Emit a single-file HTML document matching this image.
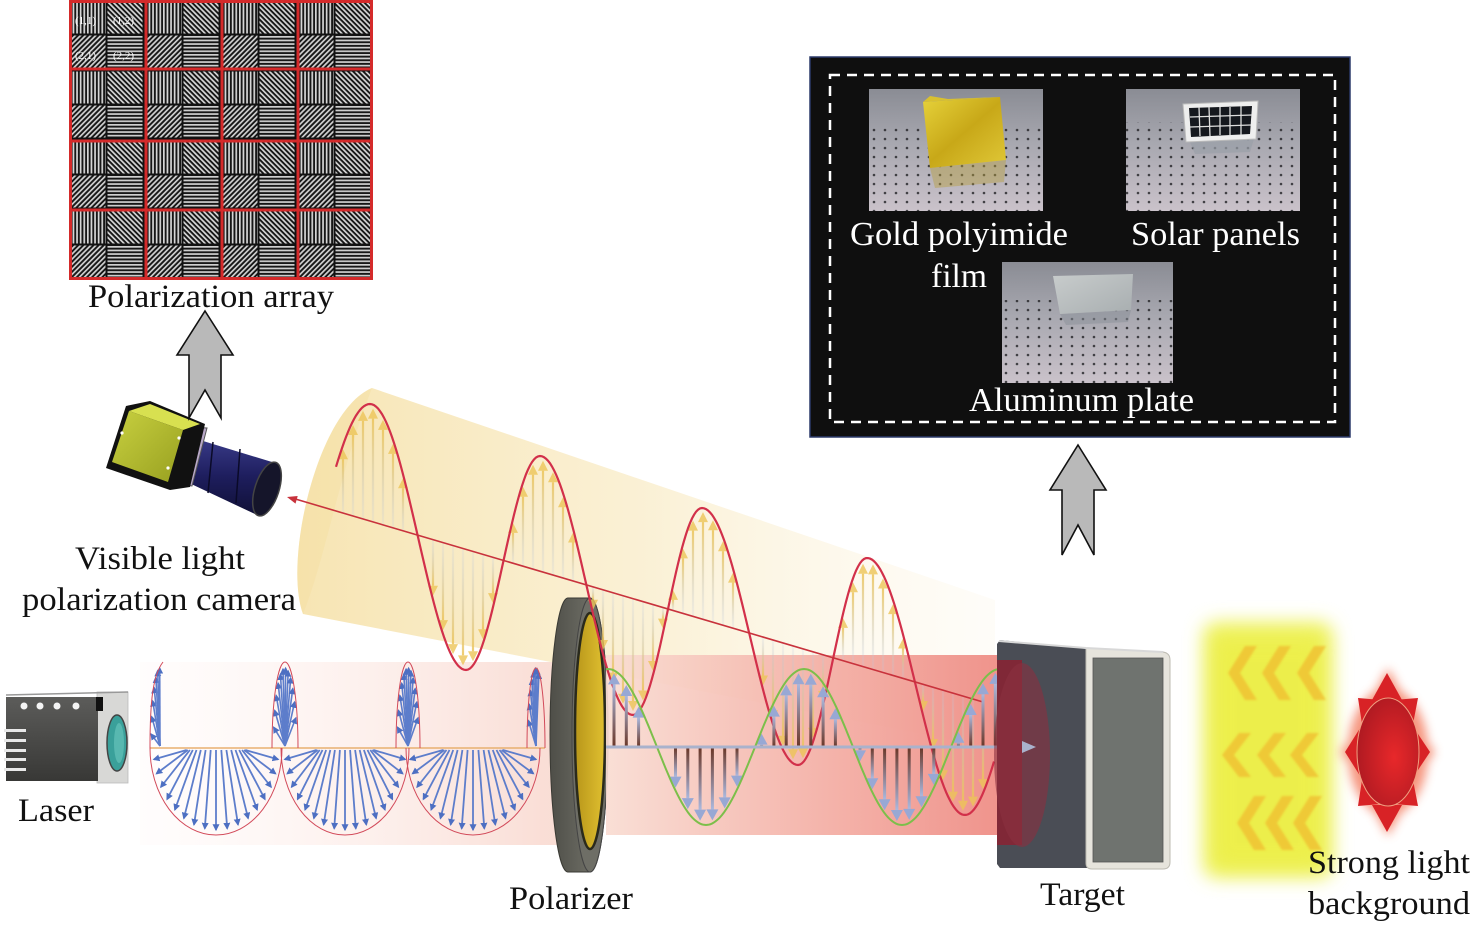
<!DOCTYPE html>
<html><head><meta charset="utf-8">
<style>
html,body{margin:0;padding:0;background:#fff;}
svg{display:block;}
text{font-family:"Liberation Serif","Times New Roman",serif;}
</style></head><body>
<svg id="s" width="1476" height="925" viewBox="0 0 1476 925" xmlns="http://www.w3.org/2000/svg">
<defs>
  <pattern id="pv" width="3.6" height="10" patternUnits="userSpaceOnUse"><rect width="3.6" height="10" fill="#161616"/><rect width="1.7" height="10" fill="#d6d6d6"/></pattern>
  <pattern id="ph" width="10" height="3.6" patternUnits="userSpaceOnUse"><rect width="10" height="3.6" fill="#161616"/><rect width="10" height="1.7" fill="#cfcfcf"/></pattern>
  <pattern id="pd1" width="3.6" height="10" patternUnits="userSpaceOnUse" patternTransform="rotate(-45)"><rect width="3.6" height="10" fill="#161616"/><rect width="1.7" height="10" fill="#d6d6d6"/></pattern>
  <pattern id="pd2" width="3.6" height="10" patternUnits="userSpaceOnUse" patternTransform="rotate(45)"><rect width="3.6" height="10" fill="#161616"/><rect width="1.7" height="10" fill="#d0d0d0"/></pattern>
  <g id="cell">
    <rect x="1.5" y="1.5" width="35" height="32" fill="url(#pv)"/>
    <rect x="38.5" y="1.5" width="35" height="32" fill="url(#pd1)"/>
    <rect x="1.5" y="35.5" width="35" height="32" fill="url(#pd2)"/>
    <rect x="38.5" y="35.5" width="35" height="32" fill="url(#ph)"/>
  </g>
  <pattern id="dots" width="11" height="9" patternUnits="userSpaceOnUse"><circle cx="5" cy="4" r="1.3" fill="#2a2a2e"/></pattern>
  <linearGradient id="tbl" x1="0" y1="0" x2="0" y2="1"><stop offset="0" stop-color="#8a8c94"/><stop offset="0.45" stop-color="#a8a8b0"/><stop offset="1" stop-color="#cac2ca"/></linearGradient>
  <linearGradient id="gold" x1="0" y1="0" x2="1" y2="1"><stop offset="0" stop-color="#e6d23a"/><stop offset="0.5" stop-color="#c8a818"/><stop offset="1" stop-color="#e0c838"/></linearGradient>
  <linearGradient id="alu" x1="0" y1="0" x2="1" y2="1"><stop offset="0" stop-color="#c8cccc"/><stop offset="1" stop-color="#a8aeb0"/></linearGradient>
  <linearGradient id="cyl" x1="300" y1="0" x2="1000" y2="0" gradientUnits="userSpaceOnUse"><stop offset="0" stop-color="#f6e2ab" stop-opacity="0.9"/><stop offset="0.5" stop-color="#f9ecc8" stop-opacity="0.75"/><stop offset="1" stop-color="#fdf6e6" stop-opacity="0.25"/></linearGradient>
  <linearGradient id="pinkL" x1="140" y1="0" x2="560" y2="0" gradientUnits="userSpaceOnUse"><stop offset="0" stop-color="#fff4f2" stop-opacity="0.2"/><stop offset="1" stop-color="#f8d6cc" stop-opacity="0.85"/></linearGradient>
  <linearGradient id="redR" x1="606" y1="0" x2="1000" y2="0" gradientUnits="userSpaceOnUse"><stop offset="0" stop-color="#f9dcd2"/><stop offset="0.5" stop-color="#f4b2a8"/><stop offset="1" stop-color="#ee8a82"/></linearGradient>
  <linearGradient id="gyu" x1="0" y1="1" x2="0" y2="0"><stop offset="0" stop-color="#b8c8e8" stop-opacity="0.15"/><stop offset="1" stop-color="#ecc458" stop-opacity="0.85"/></linearGradient>
  <linearGradient id="gyd" x1="0" y1="0" x2="0" y2="1"><stop offset="0" stop-color="#b8c8e8" stop-opacity="0.15"/><stop offset="1" stop-color="#ecc458" stop-opacity="0.85"/></linearGradient>
  <linearGradient id="ggu" x1="0" y1="1" x2="0" y2="0"><stop offset="0" stop-color="#6a3626"/><stop offset="1" stop-color="#aab8de"/></linearGradient>
  <linearGradient id="ggd" x1="0" y1="0" x2="0" y2="1"><stop offset="0" stop-color="#6a3626"/><stop offset="1" stop-color="#aab8de"/></linearGradient>
  <linearGradient id="laserG" x1="0" y1="0" x2="0" y2="1"><stop offset="0" stop-color="#5c5c5a"/><stop offset="1" stop-color="#383836"/></linearGradient>
  <linearGradient id="lensG" x1="0" y1="0" x2="0" y2="1"><stop offset="0" stop-color="#3a3c8a"/><stop offset="0.5" stop-color="#1e1e5e"/><stop offset="1" stop-color="#101036"/></linearGradient>
  <linearGradient id="camY" x1="0" y1="0" x2="1" y2="1"><stop offset="0" stop-color="#c8d040"/><stop offset="1" stop-color="#98a020"/></linearGradient>
  <radialGradient id="sunG" cx="0.6" cy="0.55" r="0.6"><stop offset="0" stop-color="#e8282a"/><stop offset="1" stop-color="#b01a22"/></radialGradient>
  <linearGradient id="polG" x1="0" y1="0" x2="1" y2="0"><stop offset="0" stop-color="#4e4e48"/><stop offset="1" stop-color="#7a7a70"/></linearGradient>
  <linearGradient id="polY" x1="0" y1="0" x2="1" y2="0"><stop offset="0" stop-color="#b8961a"/><stop offset="1" stop-color="#e0c030"/></linearGradient>
  <marker id="mb" viewBox="0 0 10 10" refX="8" refY="5" markerWidth="7" markerHeight="7" markerUnits="userSpaceOnUse" orient="auto"><path d="M0,0 L10,5 L0,10 z" fill="#4d6fc2"/></marker>
  <filter id="blur9" x="-30%" y="-30%" width="160%" height="160%"><feGaussianBlur stdDeviation="9"/></filter>
  <filter id="blur5" x="-30%" y="-30%" width="160%" height="160%"><feGaussianBlur stdDeviation="5"/></filter>
  <filter id="blur1" x="-20%" y="-20%" width="140%" height="140%"><feGaussianBlur stdDeviation="1"/></filter>
</defs>

<rect width="1476" height="925" fill="#fff"/>

<!-- Polarization array -->
<rect x="69" y="0" width="304" height="280" fill="#111"/>
<use href="#cell" x="69" y="0"/><use href="#cell" x="145" y="0"/><use href="#cell" x="221" y="0"/><use href="#cell" x="297" y="0"/>
<use href="#cell" x="69" y="70"/><use href="#cell" x="145" y="70"/><use href="#cell" x="221" y="70"/><use href="#cell" x="297" y="70"/>
<use href="#cell" x="69" y="140"/><use href="#cell" x="145" y="140"/><use href="#cell" x="221" y="140"/><use href="#cell" x="297" y="140"/>
<use href="#cell" x="69" y="210"/><use href="#cell" x="145" y="210"/><use href="#cell" x="221" y="210"/><use href="#cell" x="297" y="210"/>
<g stroke="#d42a2a" stroke-width="3" fill="none">
  <rect x="70.5" y="1.5" width="301" height="277"/>
  <line x1="146" y1="0" x2="146" y2="280"/><line x1="222" y1="0" x2="222" y2="280"/><line x1="298" y1="0" x2="298" y2="280"/>
  <line x1="69" y1="69" x2="373" y2="69"/><line x1="69" y1="141" x2="373" y2="141"/><line x1="69" y1="210" x2="373" y2="210"/>
</g>
<g fill="#fff" font-size="11">
  <text x="75" y="24" font-family="Liberation Sans, sans-serif">(1,1)</text>
  <text x="113" y="24" font-family="Liberation Sans, sans-serif">(1,2)</text>
  <text x="75" y="59" font-family="Liberation Sans, sans-serif">(2,1)</text>
  <text x="113" y="59" font-family="Liberation Sans, sans-serif">(2,2)</text>
</g>

<!-- Black box with photos -->
<rect x="810" y="57" width="540" height="380" fill="#0f0f0f" stroke="#2c3a6a" stroke-width="1.5"/>
<rect x="830" y="75" width="505" height="347" fill="none" stroke="#fff" stroke-width="2.5" stroke-dasharray="10,7"/>
<rect x="869" y="89" width="174" height="122" fill="url(#tbl)"/>
<rect x="869" y="128" width="174" height="83" fill="url(#dots)" opacity="0.85"/>
<polygon points="930,168 1006,160 1004,182 935,188" fill="#b8a040" opacity="0.45"/>
<polygon points="923,102 1000,97 1006,160 930,168" fill="url(#gold)"/>
<polygon points="923,102 930,96 948,99 1000,97" fill="#d8c030"/>
<rect x="1126" y="89" width="174" height="122" fill="url(#tbl)"/>
<rect x="1126" y="122" width="174" height="89" fill="url(#dots)" opacity="0.85"/>
<polygon points="1190,142 1254,139 1250,152 1195,154" fill="#9aa0a8" opacity="0.7"/>
<polygon points="1183,104 1258,101 1256,139 1186,142" fill="#eeeeee" stroke="#bbb" stroke-width="1"/>
<polygon points="1189,108 1252,106 1250,134 1191,137" fill="#15181e"/>
<g stroke="#ddd" stroke-width="1.3">
  <line x1="1199" y1="107" x2="1200" y2="136"/><line x1="1209" y1="107" x2="1210" y2="136"/><line x1="1220" y1="107" x2="1220" y2="135"/><line x1="1230" y1="107" x2="1230" y2="135"/><line x1="1241" y1="106" x2="1241" y2="135"/>
  <line x1="1190" y1="117" x2="1252" y2="115"/><line x1="1190" y1="127" x2="1251" y2="125"/>
</g>
<rect x="1002" y="262" width="171" height="121" fill="url(#tbl)"/>
<rect x="1002" y="300" width="171" height="83" fill="url(#dots)" opacity="0.85"/>
<polygon points="1060,314 1131,310 1128,322 1066,325" fill="#8a9098" opacity="0.5"/>
<polygon points="1053,276 1133,274 1131,310 1060,314" fill="url(#alu)"/>
<g fill="#fff" font-size="34">
  <text x="850" y="245" textLength="218" lengthAdjust="spacingAndGlyphs">Gold polyimide</text>
  <text x="931" y="287" textLength="56" lengthAdjust="spacingAndGlyphs">film</text>
  <text x="1131" y="245" textLength="169" lengthAdjust="spacingAndGlyphs">Solar panels</text>
  <text x="969" y="411" textLength="225" lengthAdjust="spacingAndGlyphs">Aluminum plate</text>
</g>

<!-- left pink beam -->
<rect x="140" y="662" width="420" height="183" fill="url(#pinkL)"/>
<!-- yellow cylinder -->
<path d="M372,388 L995,600 L995,748 L303,614 C283,560 318,410 372,388 Z" fill="url(#cyl)"/>
<path d="M372,388 C318,410 283,560 303,614 C325,560 340,470 372,388 Z" fill="#f3dc9c" opacity="0.35"/>

<!-- polarizer -->
<path d="M568,598 L590,598 A18 137 0 0 1 590,872 L568,872 A18 137 0 0 1 568,598 Z" fill="url(#polG)" stroke="#3a3a34" stroke-width="1"/>
<ellipse cx="590" cy="735" rx="18" ry="137" fill="#6e6e66" stroke="#444" stroke-width="1"/>
<ellipse cx="590" cy="731" rx="15" ry="118" fill="url(#polY)" stroke="#2a2a1c" stroke-width="2.5"/>

<!-- red beam right -->
<rect x="606" y="655" width="391" height="180" fill="url(#redR)" opacity="0.92"/>

<!-- blue spiral -->
<line x1="150" y1="748" x2="545" y2="748" stroke="#e8b070" stroke-width="1.5"/>
<g id="barr"></g>
<g fill="none" stroke="#d24a5a" stroke-width="1">
  <path d="M150,748 A66 87 0 0 0 282,748"/>
  <path d="M281,748 A64 87 0 0 0 409,748"/>
  <path d="M406,748 A67 87 0 0 0 540,748"/>
  <path d="M150,748 C150,700 153,675 163,662"/>
  <path d="M272,748 A13 86 0 0 1 298,748"/>
  <path d="M396,748 A12 86 0 0 1 420,748"/>
  <path d="M527,748 A9 80 0 0 1 545,748"/>
</g>

<!-- yellow arrows + red wave -->
<g id="yarr"></g>
<path id="rwave" d="" fill="none" stroke="#d2304a" stroke-width="2.2"/>
<line x1="292" y1="498" x2="983" y2="702" stroke="#c8323c" stroke-width="1.6"/>
<polygon points="287,497 295.5,503.6 297.7,496" fill="#c8323c"/>

<!-- green wave -->
<g id="garr"></g>
<path id="gwave" d="" fill="none" stroke="#7cbf4a" stroke-width="2"/>
<line x1="606" y1="747" x2="1026" y2="747" stroke="#a9b2cc" stroke-width="3"/>

<!-- target -->
<polygon points="997,644 1000,640 1088,649 1088,868 1000,868 997,864" fill="#4a4d55"/>
<path d="M1086,648 L1163,652 Q1170,653 1170,660 L1170,862 Q1170,869 1163,869 L1092,869 Q1086,869 1086,863 Z" fill="#e6e4dc" stroke="#bdbbb2" stroke-width="1"/>
<rect x="1093" y="658" width="70" height="204" fill="#6f736f" stroke="#555" stroke-width="0.8"/>
<polyline points="999,641 1086,648 1163,652" fill="none" stroke="#d8d8d8" stroke-width="2"/>
<rect x="997" y="660" width="25" height="185" fill="#8a2233" opacity="0.85"/>
<ellipse cx="1022" cy="755" rx="28" ry="92" fill="#8a3040" opacity="0.6"/>
<polygon points="1036,747 1022,741 1022,753" fill="#a9b2cc"/>

<!-- laser -->
<rect x="97" y="692" width="31" height="91" fill="#d8d8d6" stroke="#bbb" stroke-width="0.8"/>
<ellipse cx="117" cy="743" rx="10" ry="28" fill="#3aa09a" stroke="#444" stroke-width="1.5"/>
<ellipse cx="119" cy="743" rx="5" ry="20" fill="#6cc8c0" opacity="0.6"/>
<rect x="6" y="697" width="92" height="84" fill="url(#laserG)"/>
<line x1="6" y1="695" x2="128" y2="692" stroke="#999" stroke-width="1.5"/>
<rect x="96" y="697" width="7" height="14" fill="#111"/>
<g fill="#f4f4f4"><circle cx="24" cy="706" r="3.5"/><circle cx="40" cy="706" r="3.5"/><circle cx="57" cy="706" r="3.5"/><circle cx="76" cy="706" r="3.5"/></g>
<g fill="#e8e8e8"><rect x="4" y="729" width="22" height="3"/><rect x="4" y="739" width="22" height="3"/><rect x="4" y="749" width="22" height="3"/><rect x="4" y="758" width="22" height="3"/><rect x="4" y="768" width="22" height="3"/></g>

<!-- camera -->
<polygon points="190,437 272,462 257,515 187,482" fill="url(#lensG)"/>
<line x1="213" y1="442" x2="208" y2="493" stroke="#0a0a28" stroke-width="1.5"/>
<line x1="240" y1="449" x2="236" y2="503" stroke="#0a0a28" stroke-width="1.5"/>
<ellipse cx="267" cy="489" rx="12" ry="28" transform="rotate(18 267 489)" fill="#15152a" stroke="#444" stroke-width="1.5"/>
<polygon points="187,427 207,428 192,486 168,483" fill="#b8a8c8" stroke="#555" stroke-width="1"/>
<polygon points="106,468 126,406 150,401 205,424 190,487 170,490" fill="#111"/>
<polygon points="129,411 150,404 200,424 183,430" fill="#d8e050"/>
<polygon points="112,462 129,411 183,430 168,482" fill="url(#camY)"/>
<g fill="#fff"><circle cx="122" cy="433" r="1.6"/><circle cx="179" cy="438" r="1.6"/><circle cx="168" cy="468" r="1.6"/></g>

<!-- gray block arrows -->
<polygon points="205,311 233,355 221,355 221,418 205,390 189,418 189,355 177,355" fill="#b9b9b9" stroke="#111" stroke-width="1.6"/>
<polygon points="1078,445 1106,490 1094,490 1094,555 1078,525 1062,555 1062,490 1050,490" fill="#b9b9b9" stroke="#111" stroke-width="1.6"/>

<!-- chevrons glow -->
<rect x="1203" y="622" width="130" height="256" rx="14" fill="#eef25a" filter="url(#blur9)"/>
<rect x="1215" y="640" width="105" height="225" fill="#ecec3c" opacity="0.5" filter="url(#blur9)"/>
<g fill="#f0c030" opacity="0.8" filter="url(#blur1)">
  <polygon points="1228,673 1245,646 1257,646 1240,673 1257,700 1245,700"/>
  <polygon points="1262,673 1279,646 1291,646 1274,673 1291,700 1279,700"/>
  <polygon points="1297,673 1314,646 1326,646 1309,673 1326,700 1314,700"/>
  <polygon points="1222,755 1239,733 1251,733 1234,755 1251,777 1239,777"/>
  <polygon points="1257,755 1274,733 1286,733 1269,755 1286,777 1274,777"/>
  <polygon points="1290,755 1307,733 1319,733 1302,755 1319,777 1307,777"/>
  <polygon points="1237,823 1254,796 1266,796 1249,823 1266,850 1254,850"/>
  <polygon points="1265,823 1282,796 1294,796 1277,823 1294,850 1282,850"/>
  <polygon points="1293,823 1310,796 1322,796 1305,823 1322,850 1310,850"/>
</g>

<!-- sun -->
<g filter="url(#blur5)" fill="#f26a48" opacity="0.7">
  <ellipse cx="1388" cy="752" rx="40" ry="64"/>
  <polygon points="1388,668 1368,705 1408,705"/><polygon points="1388,836 1368,800 1408,800"/>
  <polygon points="1340,752 1364,722 1364,782"/><polygon points="1435,752 1412,722 1412,782"/>
</g>
<g fill="#d82226">
  <polygon points="1387,673 1372,700 1402,700"/>
  <polygon points="1387,832 1372,805 1402,805"/>
  <polygon points="1345,752 1362,725 1362,779"/>
  <polygon points="1430,752 1412,725 1412,779"/>
  <polygon points="1358,698 1362,724 1381,700"/>
  <polygon points="1418,698 1394,700 1413,724"/>
  <polygon points="1358,806 1362,780 1381,804"/>
  <polygon points="1418,806 1394,804 1413,780"/>
</g>
<ellipse cx="1388" cy="752" rx="31" ry="54" fill="url(#sunG)" stroke="#f0a080" stroke-width="1"/>

<!-- labels -->
<g fill="#111" font-size="33">
  <text x="88" y="307" textLength="246" lengthAdjust="spacingAndGlyphs">Polarization array</text>
  <text x="75" y="569" textLength="170" lengthAdjust="spacingAndGlyphs">Visible light</text>
  <text x="22" y="610" textLength="274" lengthAdjust="spacingAndGlyphs">polarization camera</text>
  <text x="18" y="821" textLength="76" lengthAdjust="spacingAndGlyphs">Laser</text>
  <text x="509" y="909" textLength="124" lengthAdjust="spacingAndGlyphs">Polarizer</text>
  <text x="1040" y="905" textLength="85" lengthAdjust="spacingAndGlyphs">Target</text>
  <text x="1308" y="873" textLength="162" lengthAdjust="spacingAndGlyphs">Strong light</text>
  <text x="1308" y="914" textLength="162" lengthAdjust="spacingAndGlyphs">background</text>
</g>
</svg>
<script>
(function(){
var NS="http://www.w3.org/2000/svg";
function el(t,a,p){var e=document.createElementNS(NS,t);for(var k in a)e.setAttribute(k,a[k]);p.appendChild(e);return e;}
var ext=[[275,625],[370,404],[466,670],[540,456],[633,715],[702,508],[798,765],[867,558],[965,815],[1050,610]];
function wy(x){for(var i=0;i<ext.length-1;i++){var a=ext[i],b=ext[i+1];if(x>=a[0]&&x<=b[0]){var t=(x-a[0])/(b[0]-a[0]);return a[1]+(b[1]-a[1])*(1-Math.cos(Math.PI*t))/2;}}return 600;}
function ay(x){return 497+0.295*(x-288);}
var gy=document.getElementById('yarr');
for(var x=343;x<=990;x+=10){var y=wy(x),a=ay(x),d=y-a;if(Math.abs(d)<24)continue;var up=d<0,s=up?1:-1;var tip=y+4*s,hb=tip+10*s;
 el('rect',{x:(x-1.1).toFixed(1),y:Math.min(a,hb).toFixed(1),width:2.2,height:Math.abs(hb-a).toFixed(1),fill:up?'url(#gyu)':'url(#gyd)'},gy);
 el('polygon',{points:x+','+tip.toFixed(1)+' '+(x-5)+','+hb.toFixed(1)+' '+(x+5)+','+hb.toFixed(1),fill:'#ecc458','fill-opacity':'0.8'},gy);}
var p='';for(var x2=336;x2<=995;x2+=2){p+=(x2==336?'M':'L')+x2+','+wy(x2).toFixed(1)+' ';}
document.getElementById('rwave').setAttribute('d',p);
function gw(x){return 747-78*Math.cos(2*Math.PI*(x-608)/196);}
var g='';for(var x3=606;x3<=1000;x3+=2){g+=(x3==606?'M':'L')+x3+','+gw(x3).toFixed(1)+' ';}
document.getElementById('gwave').setAttribute('d',g);
var ga=document.getElementById('garr');
for(var x4=614;x4<=998;x4+=12.3){var yy=gw(x4),dd=yy-747;if(Math.abs(dd)<16)continue;var u=dd<0,ss=u?1:-1;var tp=yy+3*ss,hh=tp+11*ss;
 el('rect',{x:(x4-1.5).toFixed(1),y:Math.min(747,hh).toFixed(1),width:3,height:Math.abs(hh-747).toFixed(1),fill:u?'url(#ggu)':'url(#ggd)'},ga);
 el('polygon',{points:x4.toFixed(1)+','+tp.toFixed(1)+' '+(x4-6).toFixed(1)+','+hh.toFixed(1)+' '+(x4+6).toFixed(1)+','+hh.toFixed(1),fill:'#98a8d4'},ga);}
var ba=document.getElementById('barr');
[[216,66],[345,64],[473,67]].forEach(function(c){var cx=c[0],rx=c[1];for(var t=8;t<=172;t+=10.25){var r=t*Math.PI/180;var ex=cx+rx*Math.cos(r)*0.95,ey=748+87*Math.sin(r)*0.94;var bx=cx+0.45*rx*Math.cos(r);
 el('line',{x1:bx.toFixed(1),y1:750,x2:ex.toFixed(1),y2:ey.toFixed(1),stroke:'#5d7dcb','stroke-width':1.8,'marker-end':'url(#mb)'},ba);}});
[[160,10,190,280],[285,13,195,345],[408,12,195,345],[536,9,200,300]].forEach(function(c){var cx=c[0],rx=c[1];for(var t=c[2];t<=c[3];t+=13){var r=t*Math.PI/180;var ex=cx+rx*Math.cos(r)*0.9,ey=748+86*Math.sin(r)*0.93;
 el('line',{x1:cx,y1:746,x2:ex.toFixed(1),y2:ey.toFixed(1),stroke:'#5d7dcb','stroke-width':1.6,'marker-end':'url(#mb)'},ba);}});
})();
</script>
</body></html>
